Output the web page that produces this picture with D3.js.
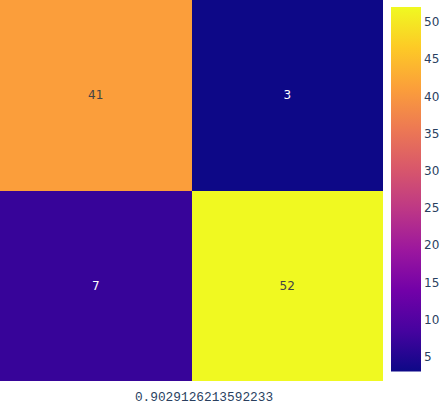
<!DOCTYPE html>
<html><head><meta charset="utf-8">
<script src="https://cdn.jsdelivr.net/npm/d3@7"></script>
<style>body{margin:0;background:#fff}svg{display:block}</style>
</head><body>
<script>
const xCats = ["0", "1"];
const yCats = ["0", "1"];
const zValues = [[41, 3], [7, 52]];
const colorbarTicks = [5, 10, 15, 20, 25, 30, 35, 40, 45, 50];
const plasmaStops = ['#0d0887','#46039f','#7201a8','#9c179e','#bd3786','#d8576b','#ed7953','#fb9f3a','#fdca26','#f0f921'];
const titleText = "0.9029126213592233";

const W = 444, H = 406;
const plot = {x0: 0, x1: 383, y0: 0, y1: 381};
const cb = {x0: 391, x1: 421, y0: 7, y1: 371.5};
const FONT = "'DejaVu Sans', Verdana, sans-serif";

const svg = d3.select("body").append("svg").attr("width", W).attr("height", H);

const flat = zValues.flat();
const zmin = d3.min(flat), zmax = d3.max(flat);
const stopDomain = plasmaStops.map((_, i) => zmin + (zmax - zmin) * i / (plasmaStops.length - 1));
const color = d3.scaleLinear().domain(stopDomain).range(plasmaStops).interpolate(d3.interpolateRgb);

const x = d3.scaleBand().domain(xCats).range([plot.x0, plot.x1]);
const y = d3.scaleBand().domain(yCats).range([plot.y0, plot.y1]);

const cells = [];
yCats.forEach((yc, i) => xCats.forEach((xc, j) => cells.push({xc, yc, v: zValues[i][j]})));

svg.append("g").selectAll("rect").data(cells).join("rect")
  .attr("x", d => x(d.xc)).attr("y", d => y(d.yc))
  .attr("width", x.bandwidth()).attr("height", y.bandwidth())
  .attr("fill", d => color(d.v)).attr("shape-rendering", "crispEdges");

svg.append("g").selectAll("text").data(cells).join("text")
  .attr("x", d => x(d.xc) + x.bandwidth() / 2)
  .attr("y", d => y(d.yc) + y.bandwidth() / 2)
  .attr("text-anchor", "middle").attr("dominant-baseline", "central")
  .attr("font-family", FONT).attr("font-size", 12)
  .attr("fill", d => d3.lab(color(d.v)).l > 55 ? "#444" : "#fff")
  .text(d => d.v);

// colorbar
const defs = svg.append("defs");
const grad = defs.append("linearGradient").attr("id", "cbgrad")
  .attr("x1", 0).attr("y1", 1).attr("x2", 0).attr("y2", 0);
plasmaStops.forEach((c, i) => grad.append("stop")
  .attr("offset", i / (plasmaStops.length - 1)).attr("stop-color", c));
svg.append("rect").attr("x", cb.x0).attr("y", cb.y0)
  .attr("width", cb.x1 - cb.x0).attr("height", cb.y1 - cb.y0)
  .attr("fill", "url(#cbgrad)");

const cbScale = d3.scaleLinear().domain([zmin, zmax]).range([cb.y1, cb.y0]);
const cbAxis = d3.axisRight(cbScale).tickValues(colorbarTicks).tickSize(0).tickPadding(3);
const gAxis = svg.append("g").attr("transform", `translate(${cb.x1},0)`).call(cbAxis);
gAxis.select(".domain").remove();
gAxis.selectAll("text").attr("font-family", FONT)
  .attr("font-size", 12).attr("fill", "#2a3f5f");

svg.append("text").attr("x", 204).attr("y", 401)
  .attr("text-anchor", "middle")
  .attr("font-family", "'Liberation Mono', 'Courier New', monospace")
  .attr("font-size", 12.8).attr("fill", "#2a3f5f")
  .text(titleText);
</script>
</body></html>
